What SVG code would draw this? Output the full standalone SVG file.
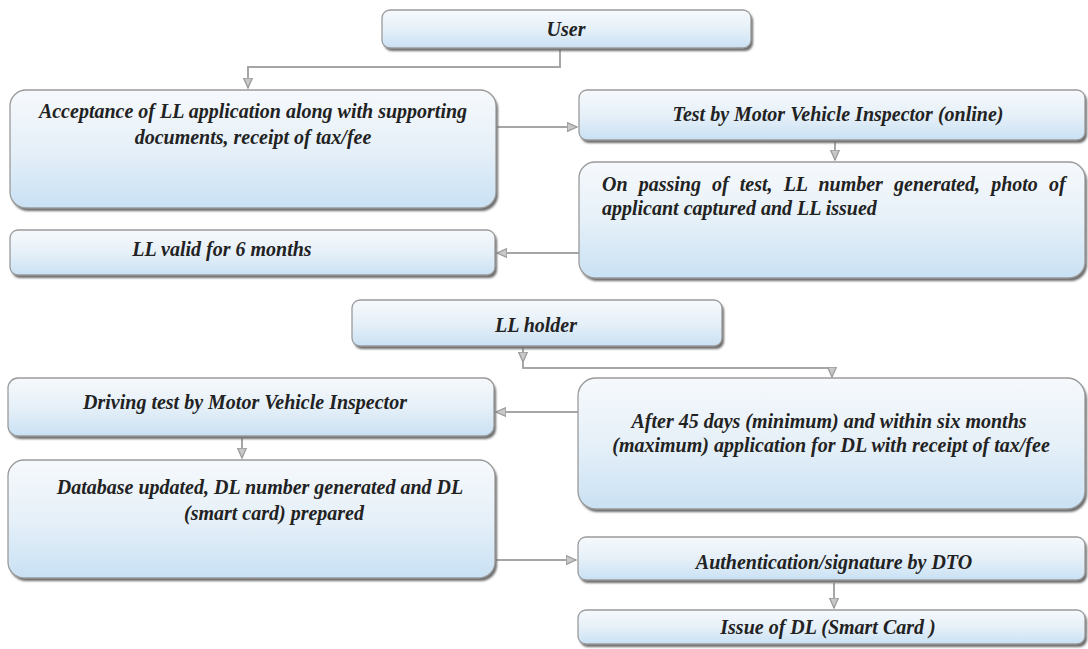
<svg xmlns="http://www.w3.org/2000/svg" width="1088" height="649" viewBox="0 0 1088 649">
<style>
.bx{fill:url(#g);stroke:#9a9a9a;stroke-width:1.3}
.sh{fill:#6a6a6a;filter:url(#bl)}
.t{font-weight:bold;font-style:italic;font-size:20px;fill:#222222}
.c{text-anchor:middle}
.ln{fill:none;stroke:#a6a6a6;stroke-width:2}
</style>
<defs>
<linearGradient id="g" x1="0" y1="0" x2="0" y2="1">
<stop offset="0" stop-color="#f6f9fc"/>
<stop offset="0.5" stop-color="#e6f0f8"/>
<stop offset="1" stop-color="#c9e1f4"/>
</linearGradient>
<filter id="bl" x="-5%" y="-5%" width="110%" height="120%"><feGaussianBlur stdDeviation="0.8"/></filter>
<marker id="ar" markerUnits="userSpaceOnUse" markerWidth="11" markerHeight="11" viewBox="0 0 10 10" refX="9" refY="5" orient="auto">
<path d="M0,1 L9,5 L0,9 z" fill="#c8c8c8" stroke="#9c9c9c" stroke-width="1.2"/>
</marker>
</defs>
<rect width="1088" height="649" fill="#ffffff"/>

<g id="connectors">
<path class="ln" d="M560,49 V67 H248 V88" marker-end="url(#ar)"/>
<path class="ln" d="M497,127 H577" marker-end="url(#ar)"/>
<path class="ln" d="M835,142 V160" marker-end="url(#ar)"/>
<path class="ln" d="M579,253 H497" marker-end="url(#ar)"/>
<path class="ln" d="M523,348 V362" marker-end="url(#ar)"/>
<path class="ln" d="M523,362 V368 H832 V377" marker-end="url(#ar)"/>
<path class="ln" d="M578,412 H496" marker-end="url(#ar)"/>
<path class="ln" d="M242,438 V458" marker-end="url(#ar)"/>
<path class="ln" d="M496,560 H576" marker-end="url(#ar)"/>
<path class="ln" d="M834,583 V608" marker-end="url(#ar)"/>
</g>

<g font-family="Liberation Serif, Times New Roman, DejaVu Serif, serif">
<g id="user">
<rect class="sh" x="384" y="13" width="369" height="38" rx="8"/>
<rect class="bx" x="382" y="10" width="369" height="38" rx="8"/>
<text class="t c" x="566" y="36">User</text>
</g>

<g id="acceptance">
<rect class="sh" x="12" y="93" width="486" height="118" rx="16"/>
<rect class="bx" x="10" y="90" width="486" height="118" rx="16"/>
<text class="t c" x="253" y="118">Acceptance of LL application along with supporting</text>
<text class="t c" x="253" y="144">documents, receipt of tax/fee</text>
</g>

<g id="test-online">
<rect class="sh" x="581" y="93" width="506" height="50" rx="8"/>
<rect class="bx" x="579" y="90" width="506" height="50" rx="8"/>
<text class="t c" x="838" y="121">Test by Motor Vehicle Inspector (online)</text>
</g>

<g id="ll-issued">
<rect class="sh" x="581" y="165" width="506" height="116" rx="16"/>
<rect class="bx" x="579" y="162" width="506" height="116" rx="16"/>
<text class="t" x="602" y="191" word-spacing="6.1">On passing of test, LL number generated, photo of</text>
<text class="t" x="602" y="215">applicant captured and LL issued</text>
</g>

<g id="ll-valid">
<rect class="sh" x="12" y="233" width="485" height="45" rx="8"/>
<rect class="bx" x="10" y="230" width="485" height="45" rx="8"/>
<text class="t c" x="222" y="256">LL valid for 6 months</text>
</g>

<g id="ll-holder">
<rect class="sh" x="354" y="303" width="370" height="46" rx="8"/>
<rect class="bx" x="352" y="300" width="370" height="46" rx="8"/>
<text class="t c" x="536" y="332">LL holder</text>
</g>

<g id="driving-test">
<rect class="sh" x="10" y="381" width="486" height="58" rx="10"/>
<rect class="bx" x="8" y="378" width="486" height="58" rx="10"/>
<text class="t c" x="245" y="409">Driving test by Motor Vehicle Inspector</text>
</g>

<g id="dl-application">
<rect class="sh" x="580" y="381" width="507" height="131" rx="18"/>
<rect class="bx" x="578" y="378" width="507" height="131" rx="18"/>
<text class="t c" x="829" y="428">After 45 days (minimum) and within six months</text>
<text class="t c" x="831" y="452">(maximum) application for DL with receipt of tax/fee</text>
</g>

<g id="database">
<rect class="sh" x="10" y="463" width="487" height="118" rx="16"/>
<rect class="bx" x="8" y="460" width="487" height="118" rx="16"/>
<text class="t c" x="260" y="494">Database updated, DL number generated and DL</text>
<text class="t c" x="274" y="520">(smart card) prepared</text>
</g>

<g id="authentication">
<rect class="sh" x="580" y="540" width="507" height="43" rx="8"/>
<rect class="bx" x="578" y="537" width="507" height="43" rx="8"/>
<text class="t c" x="834" y="569">Authentication/signature by DTO</text>
</g>

<g id="issue-dl">
<rect class="sh" x="580" y="613" width="507" height="34" rx="8"/>
<rect class="bx" x="578" y="610" width="507" height="34" rx="8"/>
<text class="t c" x="828" y="634">Issue of DL (Smart Card )</text>
</g>
</g>
</svg>
